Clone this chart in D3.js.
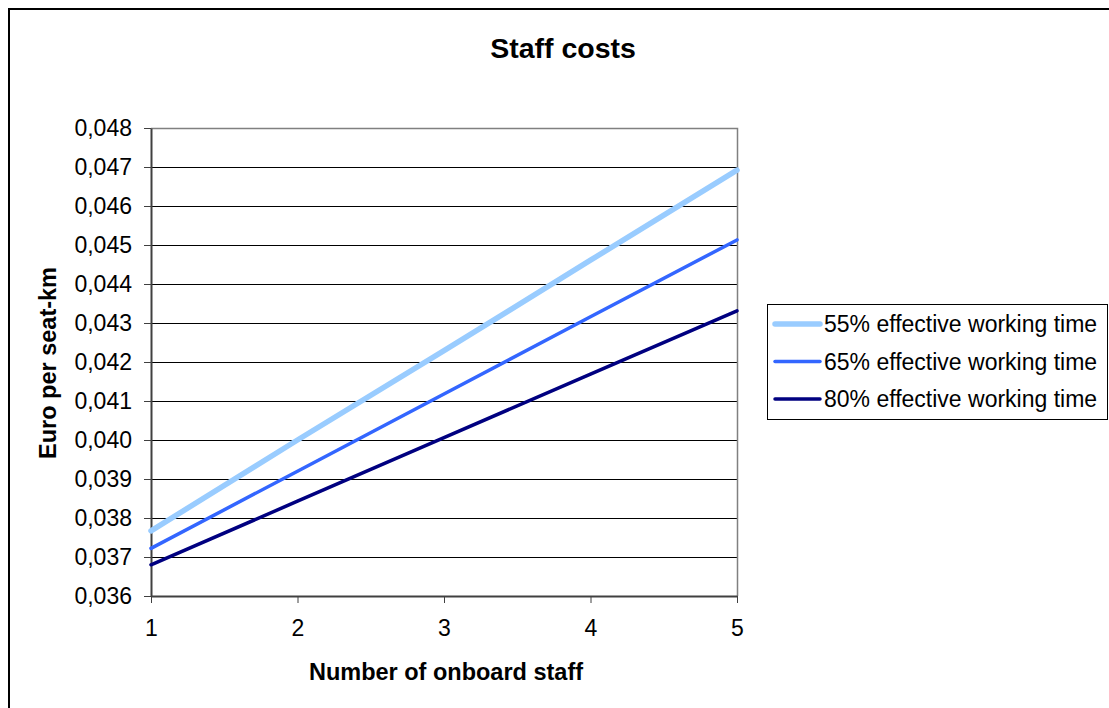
<!DOCTYPE html>
<html><head><meta charset="utf-8">
<script src="https://cdn.jsdelivr.net/npm/d3@7"></script>
<style>body{margin:0;background:#fff}svg{display:block;font-family:"Liberation Sans",Arial,sans-serif}</style>
</head><body><svg id="c" width="1109" height="708"></svg>
<script>
const staff = [1, 2, 3, 4, 5];
const s55 = [0.03767, 0.0400, 0.04229, 0.04461, 0.04692];
const s65 = [0.03722, 0.03920, 0.04118, 0.04316, 0.04513];
const s80 = [0.03680, 0.03843, 0.04006, 0.04169, 0.04331];
const seriesNames = ["55% effective working time", "65% effective working time", "80% effective working time"];
const seriesColors = ["#99ccff", "#3366ff", "#000080"];
const seriesWidths = [5.5, 3.5, 3.5];
const yTicks = [0.036,0.037,0.038,0.039,0.040,0.041,0.042,0.043,0.044,0.045,0.046,0.047,0.048];

const svg = d3.select("#c");
svg.append("rect").attr("x",9).attr("y",9).attr("width",1120).attr("height",720)
  .attr("fill","none").attr("stroke","#000").attr("stroke-width",2);

const L=151, R=737, T=128, B=596;
const x = d3.scaleLinear().domain([1,5]).range([L,R]);
const y = d3.scaleLinear().domain([0.036,0.048]).range([B,T]);

// gridlines
svg.append("g").selectAll("line").data(yTicks.slice(1,-1)).join("line")
  .attr("x1",L).attr("x2",R).attr("y1",d=>Math.round(y(d))+0.5).attr("y2",d=>Math.round(y(d))+0.5)
  .attr("stroke","#000").attr("stroke-width",1);
// frame top/right
svg.append("path").attr("d",`M${L},${T+0.5}H${R+0.5}V${B}`).attr("fill","none").attr("stroke","#808080").attr("stroke-width",1.5);

const fmt = d => d3.format(".3f")(d).replace(".",",");
const ya = svg.append("g").attr("transform",`translate(${L},0)`)
  .call(d3.axisLeft(y).tickValues(yTicks).tickFormat(fmt).tickSize(7).tickSizeOuter(0).tickPadding(12));
const xa = svg.append("g").attr("transform",`translate(0,${B})`)
  .call(d3.axisBottom(x).tickValues(staff).tickFormat(d3.format("d")).tickSize(7).tickSizeOuter(0).tickPadding(17));
[ya,xa].forEach(a=>{
  a.attr("font-size",null).attr("font-family",null);
  a.select(".domain").attr("stroke","#404040").attr("stroke-width",2);
  a.selectAll(".tick line").attr("stroke","#404040").attr("stroke-width",1);
  a.selectAll("text").style("font-size","23px").attr("fill","#000");
});

const data = [s55,s65,s80];
const line = d3.line().x((d,i)=>x(staff[i])).y(d=>y(d));
data.forEach((s,k)=>{
  svg.append("path").datum(s).attr("d",line).attr("fill","none")
    .attr("stroke",seriesColors[k]).attr("stroke-width",seriesWidths[k]).attr("stroke-linecap","round");
});

svg.append("text").attr("x",563).attr("y",58).attr("text-anchor","middle")
  .style("font-size","28.5px").attr("font-weight","bold").text("Staff costs");
svg.append("text").attr("x",446).attr("y",680).attr("text-anchor","middle")
  .style("font-size","23.5px").attr("font-weight","bold").text("Number of onboard staff");
svg.append("text").attr("transform","translate(56,363) rotate(-90)").attr("text-anchor","middle")
  .style("font-size","23.5px").attr("font-weight","bold").text("Euro per seat-km");

// legend
const lg = svg.append("g");
lg.append("rect").attr("x",767.5).attr("y",304.5).attr("width",340).attr("height",115)
  .attr("fill","#fff").attr("stroke","#000").attr("stroke-width",1);
seriesNames.forEach((n,i)=>{
  const yy = 324 + i*37.5;
  lg.append("line").attr("x1",775).attr("x2",820).attr("y1",yy).attr("y2",yy)
    .attr("stroke",seriesColors[i]).attr("stroke-width",seriesWidths[i]).attr("stroke-linecap","round");
  lg.append("text").attr("x",824).attr("y",yy+8).style("font-size","23px").text(n);
});
</script></body></html>
